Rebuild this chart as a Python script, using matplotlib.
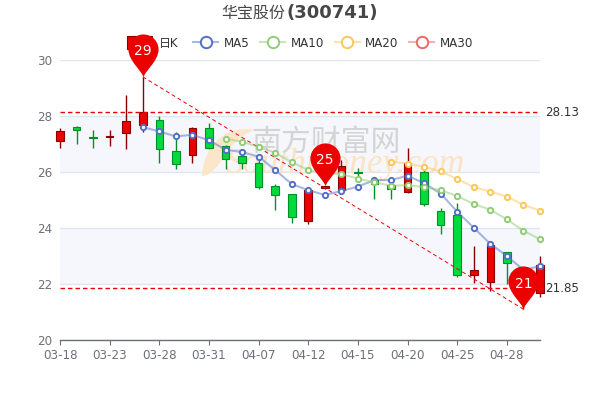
#coding:utf-8

import matplotlib
matplotlib.use("Agg")
import matplotlib.pyplot as plt
from matplotlib.colors import to_rgba
from matplotlib.lines import Line2D
from matplotlib.patches import Patch, PathPatch
from matplotlib.path import Path

plt.rcParams['font.family'] = ['DejaVu Sans', 'Noto Sans CJK SC']

dates = ['03-18', '03-19', '03-22', '03-23', '03-24', '03-25', '03-28', '03-29', '03-30', '03-31',
         '04-01', '04-06', '04-07', '04-08', '04-11', '04-12', '04-13', '04-14', '04-15', '04-18',
         '04-19', '04-20', '04-21', '04-22', '04-25', '04-26', '04-27', '04-28', '04-29', '05-05']

# values, candle 28 sits behind the pin so it is a guess
opens = [27.10, 27.60, 27.25, 27.26, 27.40, 27.68, 27.85, 26.74, 26.61, 27.56,
         26.92, 26.57, 26.31, 25.50, 25.20, 24.26, 25.44, 25.36, 26.01, 25.71,
         25.54, 25.29, 26.00, 24.60, 24.45, 22.32, 22.08, 23.13, 21.90, 21.69]
closes = [27.47, 27.49, 27.20, 27.30, 27.83, 28.13, 26.81, 26.30, 27.56, 26.87,
          26.45, 26.33, 25.46, 25.17, 24.40, 25.36, 25.49, 26.20, 25.95, 25.56,
          25.38, 26.31, 24.85, 24.10, 22.32, 22.50, 23.38, 22.74, 22.30, 22.68]
lows = [26.87, 27.01, 26.85, 26.92, 26.82, 27.44, 26.31, 26.12, 26.33, 26.82,
        26.11, 26.10, 25.40, 24.64, 24.19, 24.15, 25.40, 25.30, 25.65, 25.02,
        25.02, 25.25, 24.77, 23.77, 22.26, 22.05, 21.75, 22.00, 21.10, 21.55]
highs = [27.58, 27.65, 27.50, 27.49, 28.75, 29.40, 27.99, 27.44, 27.60, 27.76,
         26.95, 26.65, 26.60, 25.57, 25.20, 25.40, 25.50, 26.43, 26.13, 25.75,
         25.70, 26.85, 26.07, 24.70, 24.89, 23.36, 23.40, 23.15, 22.40, 23.00]

ma5 = [None] * 5 + [27.60, 27.45, 27.27, 27.33, 27.13, 26.80, 26.71, 26.55, 26.07, 25.57,
                    25.35, 25.18, 25.32, 25.48, 25.71, 25.71, 25.87, 25.60, 25.23, 24.58,
                    24.01, 23.43, 23.00, 22.50, 22.64]
ma10 = [None] * 10 + [27.19, 27.08, 26.90, 26.69, 26.35, 26.07, 25.95, 25.93, 25.76, 25.63,
                      25.51, 25.53, 25.46, 25.35, 25.14, 24.86, 24.65, 24.31, 23.90, 23.60]
ma20 = [None] * 20 + [26.37, 26.30, 26.19, 26.02, 25.75, 25.46, 25.30, 25.12, 24.83, 24.62]

pin_x = [5, 16, 28]
pin_y = [29.40, 25.50, 21.10]
pin_labels = ['29', '25', '21']

level_high = 28.13
level_low = 21.85

red = '#ec0000'
red_dark = '#8a0000'
green = '#00da3c'
green_dark = '#008f28'
axis_color = '#6e7079'
grid_color = '#e0e6f1'
band_color = '#f6f7fc'
mark_red = '#ee0000'


def px(x, y):
    # pixel position in the 600x400 picture to figure fraction
    return x / 600, 1 - y / 400


fig = plt.figure(figsize=(6, 4), dpi=100, facecolor='w')
ax = fig.add_axes([0.1, 0.15, 0.8, 0.7])
ax.set_xlim(0, 29)
ax.set_ylim(20, 30)

# split areas and grid
ax.axhspan(22, 24, color=band_color, lw=0, zorder=0)
ax.axhspan(26, 28, color=band_color, lw=0, zorder=0)
ax.set_yticks([20, 22, 24, 26, 28, 30])
ax.grid(True, axis='y', color=grid_color, lw=1)
ax.set_axisbelow(True)

for side in ['top', 'right', 'left']:
    ax.spines[side].set_visible(False)
ax.spines['bottom'].set_color(axis_color)
ax.spines['bottom'].set_linewidth(1)
ax.set_xticks(range(0, 30, 3), labels=dates[::3])
ax.tick_params(axis='x', colors=axis_color, length=3.6, width=0.8, pad=3, labelsize=8.6)
ax.tick_params(axis='y', colors=axis_color, length=0, pad=5.5, labelsize=8.6)

# watermark, on the axes so that the candles stay above it
crescent = Path([px(255, 130), px(222, 124), px(203, 150), px(202, 176),
                 px(222, 174), px(224, 140), px(255, 130)],
                [Path.MOVETO, Path.CURVE4, Path.CURVE4, Path.CURVE4,
                 Path.CURVE4, Path.CURVE4, Path.CURVE4])
ax.add_patch(PathPatch(crescent, transform=fig.transFigure, fc='#fce6ca', ec='none', zorder=1))
ax.text(*px(326, 142), '南方财富网', transform=fig.transFigure, color='#d4d4d4', fontsize=21.5,
        ha='center', va='center', family='Noto Sans CJK SC', zorder=1.2)
ax.text(*px(226, 173), 'Southmoney.com', transform=fig.transFigure, color='#fbe3c5', fontsize=25.5,
        style='italic', family='Liberation Serif', ha='left', va='baseline', zorder=1.1)

# candles
for i in range(len(dates)):
    up = closes[i] >= opens[i]
    face = red if up else green
    edge = red_dark if up else green_dark
    ax.vlines(i, lows[i], highs[i], color=edge, lw=1, zorder=3, clip_on=False)
    ax.bar(i, abs(closes[i] - opens[i]), bottom=min(opens[i], closes[i]), width=0.46,
           color=face, edgecolor=edge, lw=0.8, zorder=3.1, clip_on=False)

# moving averages
xs = range(len(dates))
for values, c in [(ma5, '#5470c6'), (ma10, '#91cc75'), (ma20, '#fac858')]:
    pts = [(x, v) for x, v in zip(xs, values) if v is not None]
    ax.plot([p[0] for p in pts], [p[1] for p in pts], color=to_rgba(c, 0.5), lw=1.5,
            marker='o', ms=3.8, mfc='white', mec=c, mew=1.4, zorder=4, clip_on=False)

# mark lines
ax.axhline(level_high, color=mark_red, lw=1, dashes=(3.2, 2.2), zorder=3.5)
ax.axhline(level_low, color=mark_red, lw=1, dashes=(3.2, 2.2), zorder=3.5)
ax.plot([pin_x[0], pin_x[-1]], [pin_y[0], pin_y[-1]], color=mark_red, lw=0.7,
        dashes=(4, 3), zorder=3.5)
for v in [level_high, level_low]:
    ax.annotate('%.2f' % v, (1, v), xycoords=('axes fraction', 'data'), xytext=(4, 0),
                textcoords='offset points', color='#333333', fontsize=8.6, va='center', ha='left')

# pins, tip of the path is the marked value
pin = Path([(0, 0), (-0.02, 0.14), (-0.35, 0.38), (-0.35, 0.65),
            (-0.35, 0.843), (-0.193, 1.0), (0, 1.0),
            (0.193, 1.0), (0.35, 0.843), (0.35, 0.65),
            (0.35, 0.38), (0.02, 0.14), (0, 0)],
           [Path.MOVETO] + [Path.CURVE4] * 12)
ax.plot(pin_x, pin_y, ls='none', marker=pin, ms=62, mfc=red, mec='none', zorder=6, clip_on=False)
for x, y, label in zip(pin_x, pin_y, pin_labels):
    ax.annotate(label, (x, y), xytext=(0, 18.5), textcoords='offset points', color='white',
                fontsize=10, ha='center', va='center', zorder=7, annotation_clip=False)

# legend, two parts because the 日K column is wider in the reference
leg_style = dict(bbox_transform=fig.transFigure, frameon=False, fontsize=8.6, labelcolor='#333333',
                 handlelength=2.1, handleheight=1.2, borderpad=0, borderaxespad=0)
candle_leg = ax.legend([Patch(fc=red, ec=red_dark, lw=0.8)], ['日K'], loc='center left',
                       bbox_to_anchor=px(127, 43), handletextpad=0.6, **leg_style)
candle_leg.set_zorder(5)
ax.add_artist(candle_leg)

handles = []
names = ['MA5', 'MA10', 'MA20', 'MA30']
for c in ['#5470c6', '#91cc75', '#fac858', '#ee6666']:
    handles.append(Line2D([], [], color=to_rgba(c, 0.5), lw=1.5, marker='o', ms=8.2,
                          mfc='white', mec=c, mew=1.4))
ma_leg = ax.legend(handles, names, ncols=4, loc='center right', bbox_to_anchor=px(473, 43),
                   handletextpad=0.45, columnspacing=0.9, **leg_style)
ma_leg.set_zorder(5)

# title
fig.text(*px(285, 13), '华宝股份', color='#464646', fontsize=11.5, ha='right', va='center',
         family='Noto Sans CJK SC', fontweight='light')
fig.text(*px(286, 13), '(300741)', color='#464646', fontsize=13, ha='left', va='center',
         fontweight='bold')

plt.savefig('out.png', dpi=100)
plt.close()
